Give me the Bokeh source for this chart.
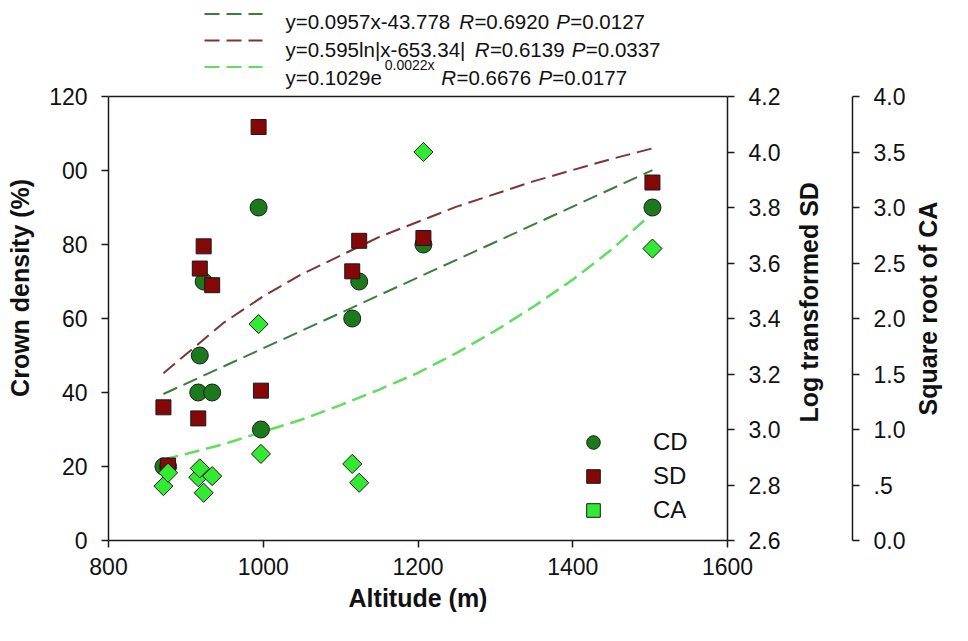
import math
from bokeh.plotting import figure
from bokeh.models import (Range1d, LinearAxis, FixedTicker, PrintfTickFormatter,
                          Legend, LegendItem, Label, Arrow, Span)
from bokeh.embed import file_html
from bokeh.resources import INLINE

# ---------------- data ----------------
altitude = [871, 877, 916, 918, 923, 934, 994, 997, 1115, 1124, 1207, 1503]
crown_density = [20, 20, 40, 50, 70, 40, 90, 30, 60, 70, 80, 90]
log_sd = [3.08, 2.87, 3.04, 3.58, 3.66, 3.52, 4.09, 3.14, 3.57, 3.68, 3.69, 3.89]
sqrt_ca = [0.49, 0.61, 0.57, 0.65, 0.43, 0.58, 1.95, 0.78, 0.69, 0.52, 3.50, 2.63]

cd_fit_x = [871, 1503]
cd_fit_y = [39.6, 100.1]
sd_fit_x = [871, 950, 1000, 1050, 1150, 1250, 1350, 1450, 1503]
sd_fit_y = [3.203, 3.387, 3.480, 3.560, 3.694, 3.803, 3.895, 3.975, 4.013]
ca_fit_x = [871, 900, 950, 1000, 1050, 1100, 1150, 1200, 1250, 1300, 1350, 1400, 1450, 1503]
ca_fit_y = [0.73, 0.78, 0.87, 0.98, 1.09, 1.22, 1.36, 1.51, 1.69, 1.89, 2.11, 2.35, 2.62, 2.95]

x_ticks = [800, 1000, 1200, 1400, 1600]
cd_ticks = [0, 20, 40, 60, 80, 100, 120]
sd_ticks = [2.6, 2.8, 3.0, 3.2, 3.4, 3.6, 3.8, 4.0, 4.2]
ca_ticks = [0.0, 0.5, 1.0, 1.5, 2.0, 2.5, 3.0, 3.5, 4.0]

series_names = ["CD", "SD", "CA"]
fit_rows = [
    [("y=0.0957x-43.778 ", "n"), ("R", "i"), ("=0.6920 ", "n"), ("P", "i"), ("=0.0127", "n")],
    [("y=0.595ln|x-653.34| ", "n"), ("R", "i"), ("=0.6139 ", "n"), ("P", "i"), ("=0.0337", "n")],
    [("y=0.1029e", "n"), ("0.0022x", "s"), (" ", "n"), ("R", "i"), ("=0.6676 ", "n"), ("P", "i"), ("=0.0177", "n")],
]

# ---------------- styles / layout ----------------
FONT = "Liberation Sans"
CD_FILL, SD_FILL, CA_FILL = "#1c7a1c", "#840808", "#33ea33"
CD_LINE, SD_LINE, CA_LINE = "#3b7d3b", "#7d3434", "#62dc62"
EDGE = "#1a1a1a"
DASH = "15 7"
NB = "\u00a0"

W, H = 968, 640
FL, FR, FB = 108, 727, 540           # frame edges on canvas (pixels)
AXIS_TOP = 96                        # pixel row of the top of the axes box
k = FB / (FB - AXIS_TOP)
cd_lo, cd_hi = 0, 120
sd_lo, sd_hi = 2.6, 4.2
ca_lo, ca_hi = 0.0, 4.0

p = figure(width=W, height=H, output_backend="svg", toolbar_location=None,
           x_range=Range1d(800, 1600),
           y_range=Range1d(cd_lo, cd_lo + (cd_hi - cd_lo) * k),
           min_border_left=FL, min_border_top=0,
           min_border_right=W - FR, min_border_bottom=H - FB,
           background_fill_color="white", border_fill_color="white")
p.extra_y_ranges = {"sd": Range1d(sd_lo, sd_lo + (sd_hi - sd_lo) * k),
                    "ca": Range1d(ca_lo, ca_lo + (ca_hi - ca_lo) * k)}
p.grid.grid_line_color = None
p.outline_line_color = None


def style_axis(ax, standoff=14, label_standoff=12):
    ax.axis_line_color = EDGE
    ax.axis_line_width = 1.5
    ax.major_tick_line_color = EDGE
    ax.major_tick_line_width = 1.5
    ax.major_tick_out = 7
    ax.major_tick_in = 0
    ax.minor_tick_line_color = None
    ax.major_label_text_font = FONT
    ax.major_label_text_font_size = "23px"
    ax.major_label_text_color = "#111111"
    ax.major_label_standoff = standoff
    ax.axis_label_text_font = FONT
    ax.axis_label_text_font_size = "25px"
    ax.axis_label_text_font_style = "bold"
    ax.axis_label_text_color = "#111111"
    ax.axis_label_standoff = label_standoff


xa = p.xaxis[0]
xa.ticker = FixedTicker(ticks=x_ticks)
xa.axis_label = "Altitude (m)"
style_axis(xa, standoff=10, label_standoff=6)

ya = p.yaxis[0]
ya.ticker = FixedTicker(ticks=cd_ticks)
ya.bounds = (cd_lo, cd_hi)
ya.major_label_overrides = {100: "00"}
ya.axis_label = "Crown density (%)" + NB * 5
style_axis(ya, standoff=14, label_standoff=12)

HAS_ALIGN = "axis_label_align" in LinearAxis.properties()
pad_sd = NB * 17 if HAS_ALIGN else ""
pad_ca = NB * 18 if HAS_ALIGN else ""

ax_sd = LinearAxis(y_range_name="sd", ticker=FixedTicker(ticks=sd_ticks),
                   formatter=PrintfTickFormatter(format="%.1f"),
                   bounds=(sd_lo, sd_hi),
                   axis_label=NB + "\n" + pad_sd + "Log transformed SD",
                   axis_label_orientation=math.pi / 2)
style_axis(ax_sd, standoff=14, label_standoff=14)
ax_sd.axis_label_text_line_height = 0.85
if HAS_ALIGN:
    ax_sd.axis_label_align = "start"
p.add_layout(ax_sd, "right")

ax_ca = LinearAxis(y_range_name="ca", ticker=FixedTicker(ticks=ca_ticks),
                   formatter=PrintfTickFormatter(format="%.1f"),
                   bounds=(ca_lo, ca_hi),
                   major_label_overrides={0.5: ".5"},
                   axis_label=pad_ca + "Square root of CA",
                   axis_label_orientation=math.pi / 2)
style_axis(ax_ca, standoff=14, label_standoff=20)
if HAS_ALIGN:
    ax_ca.axis_label_align = "start"
p.add_layout(ax_ca, "right")

# top edge of the axes box
p.add_layout(Span(location=cd_hi, dimension="width", line_color=EDGE, line_width=1.5))

# ---------------- fitted curves ----------------
p.line(cd_fit_x, cd_fit_y, line_color=CD_LINE, line_width=2, line_dash=DASH)
p.line(sd_fit_x, sd_fit_y, y_range_name="sd", line_color=SD_LINE, line_width=2, line_dash=DASH)
p.line(ca_fit_x, ca_fit_y, y_range_name="ca", line_color=CA_LINE, line_width=2.5, line_dash=DASH)

# ---------------- points ----------------
r_cd = p.scatter(altitude, crown_density, marker="circle", size=17,
                 fill_color=CD_FILL, line_color=EDGE, line_width=1)
r_sd = p.scatter(altitude, log_sd, y_range_name="sd", marker="square", size=15,
                 fill_color=SD_FILL, line_color=EDGE, line_width=1)
r_ca = p.scatter(altitude, sqrt_ca, y_range_name="ca", marker="square", size=13.5,
                 angle=math.pi / 4, fill_color=CA_FILL, line_color=EDGE, line_width=1)

legend = Legend(items=[LegendItem(label=series_names[0], renderers=[r_cd]),
                       LegendItem(label=series_names[1], renderers=[r_sd]),
                       LegendItem(label=series_names[2], renderers=[r_ca])],
                location=(465, 13), orientation="vertical",
                border_line_color=None, background_fill_alpha=0,
                padding=0, margin=0, spacing=0,
                glyph_width=40, glyph_height=34, label_height=34,
                label_standoff=40, label_text_font=FONT,
                label_text_font_size="24px", label_text_color="#111111")
p.add_layout(legend)


# ---------------- equation legend above the axes box ----------------
def dx(px):
    return 800 + (px - FL) * 800 / (FR - FL)


def dy(py):
    return cd_lo + (FB - py) * (cd_hi - cd_lo) / (FB - AXIS_TOP)


AW = {"0": 556, "1": 556, "2": 556, "3": 556, "4": 556, "5": 556, "6": 556, "7": 556,
      "8": 556, "9": 556, ".": 278, "=": 584, "y": 500, "x": 500, "-": 333, " ": 278,
      "R": 722, "P": 667, "e": 556, "l": 222, "n": 556, "|": 260}


def tw(s, fs):
    return sum(AW.get(c, 556) for c in s) * fs / 1000 * 1.02


FS, SFS = 20.5, 14
line_cols = [CD_LINE, SD_LINE, CA_LINE]
baselines = [21, 49, 77]
sample_y = [13.5, 40, 66.5]
for row, col, base, sy in zip(fit_rows, line_cols, baselines, sample_y):
    p.add_layout(Arrow(start=None, end=None, x_start=dx(204), y_start=dy(sy),
                       x_end=dx(262), y_end=dy(sy), line_color=col,
                       line_width=2, line_dash=DASH))
    xpx = 285
    for txt, st in row:
        fs = SFS if st == "s" else FS
        yb = base - 13 if st == "s" else base
        if st == "s":
            xpx += 1
        if txt.strip():
            p.add_layout(Label(x=dx(xpx), y=dy(yb), text=txt.rstrip(),
                               text_font=FONT, text_font_size=f"{fs}px",
                               text_font_style="italic" if st == "i" else "normal",
                               text_color="#111111", text_align="left",
                               text_baseline="alphabetic"))
        xpx += tw(txt, fs)

open("out.html", "w").write(file_html(p, INLINE))
